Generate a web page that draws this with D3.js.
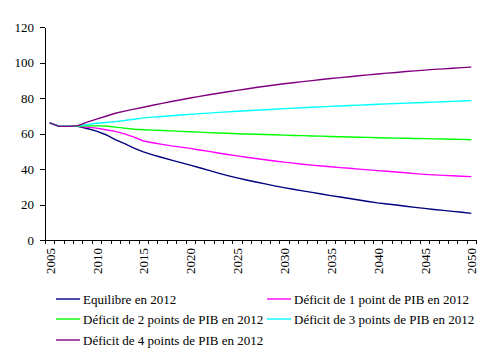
<!DOCTYPE html>
<html><head><meta charset="utf-8">
<script src="https://cdn.jsdelivr.net/npm/d3@7"></script>
<style>
body{margin:0;background:#fff;}
svg{display:block;}
svg text{font-family:"Liberation Serif","Times New Roman","DejaVu Serif",serif !important;}
</style></head>
<body><svg id="c" width="491" height="358"></svg>
<script>
const years = d3.range(2005, 2051);
const seriesNames = [
  "Equilibre en 2012",
  "Déficit de 1 point de PIB en 2012",
  "Déficit de 2 points de PIB en 2012",
  "Déficit de 3 points de PIB en 2012",
  "Déficit de 4 points de PIB en 2012"
];
const seriesColors = ["#000080", "#FF00FF", "#00FF00", "#00FFFF", "#800080"];
const yTicks = [0, 20, 40, 60, 80, 100, 120];
const xLabelYears = [2005, 2010, 2015, 2020, 2025, 2030, 2035, 2040, 2045, 2050];

const equilibre = [66.0,64.0,64.0,64.0,62.8,61.3,59.3,56.5,54.3,51.8,49.6,
  48.0,46.5,45.0,43.6,42.2,40.7,39.2,37.7,36.3,35.0,33.8,32.7,31.6,30.5,29.5,
  28.6,27.7,26.8,25.9,25.0,24.2,23.4,22.5,21.7,20.9,20.3,19.7,19.0,18.4,17.8,
  17.2,16.7,16.1,15.6,15.0];
const deficit1 = [66.0,64.0,64.0,64.0,63.6,63.0,62.1,61.2,59.8,58.0,55.8,
  54.8,53.9,53.0,52.3,51.6,50.7,49.9,49.0,48.2,47.4,46.6,45.9,45.2,44.5,43.9,
  43.3,42.7,42.2,41.7,41.3,40.8,40.4,39.9,39.5,39.1,38.7,38.3,37.9,37.4,37.0,
  36.7,36.4,36.2,35.9,35.7];
const deficit2 = [66.0,64.0,64.0,64.1,64.3,64.3,64.2,63.6,63.0,62.4,62.1,
  61.9,61.7,61.5,61.2,61.0,60.8,60.5,60.3,60.1,59.9,59.7,59.6,59.4,59.3,59.1,
  58.9,58.8,58.6,58.5,58.3,58.2,58.0,57.9,57.8,57.6,57.5,57.4,57.3,57.2,57.1,
  57.0,56.9,56.8,56.7,56.5];
const deficit3 = [66.0,64.0,64.0,64.3,65.0,65.8,66.2,66.7,67.3,68.0,68.8,
  69.2,69.6,70.0,70.4,70.8,71.2,71.5,71.9,72.2,72.5,72.8,73.1,73.4,73.7,74.0,
  74.3,74.5,74.8,75.0,75.3,75.5,75.8,76.0,76.2,76.5,76.7,76.9,77.1,77.3,77.5,
  77.7,77.9,78.1,78.3,78.5];
const deficit4 = [66.0,64.0,64.0,64.4,66.4,68.1,69.7,71.4,72.6,73.7,74.8,
  75.9,77.0,78.0,79.0,80.0,80.9,81.8,82.7,83.5,84.3,85.1,85.9,86.6,87.3,88.0,
  88.6,89.2,89.8,90.4,91.0,91.5,92.0,92.5,93.0,93.5,94.0,94.4,94.9,95.3,95.7,
  96.1,96.4,96.8,97.1,97.4];
const seriesValues = [equilibre, deficit1, deficit2, deficit3, deficit4];

const svg = d3.select("#c");
const mLeft = 45, mRight = 476, mTop = 27, mBottom = 240;
const FONT = "'Liberation Serif', 'Times New Roman', serif";

const x = d3.scaleLinear().domain([2004.5, 2050.5]).range([mLeft, mRight]);
const y = d3.scaleLinear().domain([0, 120]).range([mBottom, mTop]);

// y axis
const ya = svg.append("g").attr("transform", `translate(${mLeft},0)`)
  .call(d3.axisLeft(y).tickValues(yTicks).tickSize(5).tickSizeOuter(0).tickPadding(6));
ya.attr("font-family", FONT).attr("font-size", 13);
ya.selectAll("text").attr("fill", "#000");
ya.selectAll("line,path").attr("stroke", "#000").attr("shape-rendering", "crispEdges");

// x axis ticks (between categories)
const edges = d3.range(0, years.length + 1).map(i => 2004.5 + i);
const xa = svg.append("g").attr("transform", `translate(0,${mBottom})`)
  .call(d3.axisBottom(x).tickValues(edges).tickSize(4).tickSizeOuter(0).tickFormat(""));
xa.selectAll("line,path").attr("stroke", "#000").attr("shape-rendering", "crispEdges");

// x labels (centered on categories)
const xl = svg.append("g").attr("transform", `translate(0,${mBottom})`)
  .call(d3.axisBottom(x).tickValues(xLabelYears).tickSize(0).tickFormat(d3.format("d")));
xl.attr("font-family", FONT).attr("font-size", 13);
xl.select(".domain").remove();
xl.selectAll("text")
  .attr("fill", "#000")
  .attr("transform", "rotate(-90)")
  .attr("text-anchor", "end")
  .attr("x", -8).attr("y", 0).attr("dy", "0.35em");

// lines
const line = d3.line().x((d, i) => x(years[i])).y(d => y(d));
seriesValues.forEach((vals, k) => {
  svg.append("path").datum(vals)
    .attr("d", line).attr("fill", "none")
    .attr("stroke", seriesColors[k]).attr("stroke-width", 1.4);
});

// legend
const legendPos = [[56, 299], [267, 299], [56, 319], [267, 319], [56, 340]];
const lg = svg.append("g").attr("font-family", FONT).attr("font-size", 13);
seriesNames.forEach((name, k) => {
  const [lx, ly] = legendPos[k];
  lg.append("line").attr("x1", lx).attr("x2", lx + 24).attr("y1", ly).attr("y2", ly)
    .attr("stroke", seriesColors[k]).attr("stroke-width", 1.4);
  lg.append("text").attr("x", lx + 27).attr("y", ly).attr("dy", "0.35em")
    .attr("fill", "#000").text(name);
});
</script></body></html>
